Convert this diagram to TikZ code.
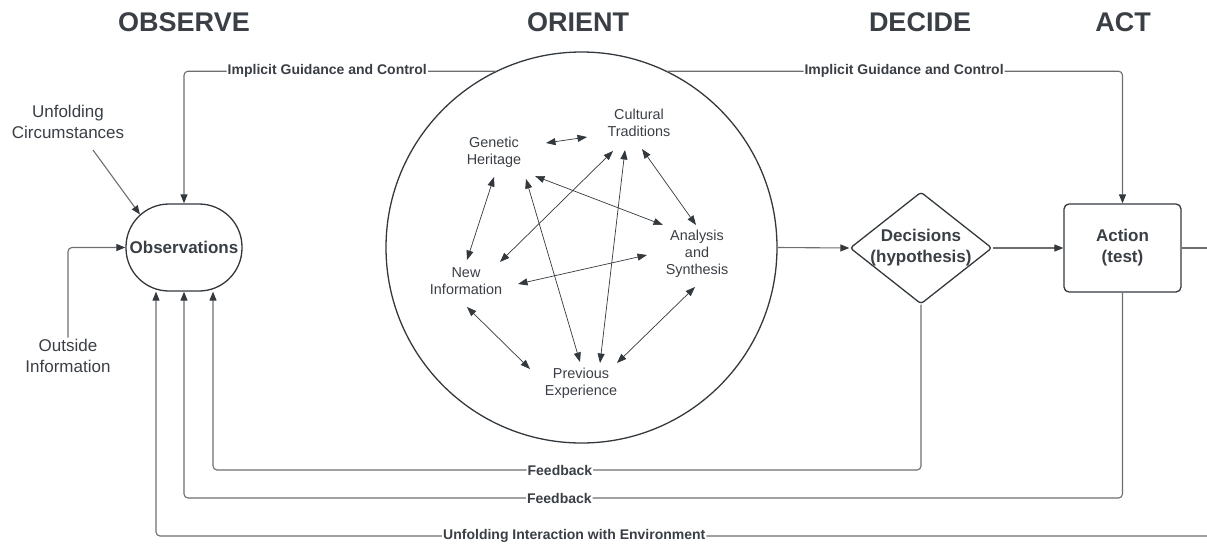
\documentclass[tikz,border=0pt]{standalone}
\usepackage{fontspec}
\setmainfont{Liberation Sans}
\usetikzlibrary{arrows.meta,shapes.geometric}
\definecolor{ink}{HTML}{33383D}
\definecolor{wire}{HTML}{6E6E6E}
\definecolor{txt}{HTML}{3A3F45}

\begin{document}
\begin{tikzpicture}[x=1pt,y=-1pt,
  tip/.style={-{Triangle[length=9pt,width=7pt,color=ink]}},
  conn/.style={draw=wire,line width=1.1pt,rounded corners=4pt},
  link/.style={draw=ink,line width=0.7pt,>={Triangle[length=9.5pt,width=7pt]},<->},
  title/.style={text=txt,font=\fontsize{27}{32}\selectfont\bfseries},
  side/.style={text=txt,align=center,font=\fontsize{17}{21}\selectfont,inner sep=1pt},
  inner/.style={text=txt,align=center,font=\fontsize{14.4}{17}\selectfont,inner sep=1pt},
  lbl/.style={fill=white,text=txt,font=\fontsize{14}{16}\selectfont\bfseries,inner sep=1pt},
  shapebox/.style={draw=ink,line width=1.3pt,text=txt,align=center,
    font=\fontsize{17}{21}\selectfont\bfseries,inner sep=0pt}
]
\useasboundingbox (0,0) rectangle (1207,547);

% phase titles
\node[title] (tobs) at (184,22) {OBSERVE};
\node[title] (tori) at (578,22) {ORIENT};
\node[title] (tdec) at (920,22) {DECIDE};
\node[title] (tact) at (1123,22) {ACT};

% main stages
\node[shapebox,rectangle,rounded corners=43pt,minimum width=116pt,minimum height=87pt]
  (obs) at (184,247.5) {Observations};
\node[draw=ink,line width=1.3pt,circle,minimum size=391pt,inner sep=0pt]
  (orient) at (581.5,247.5) {};
\node[shapebox,diamond,aspect=1.27,minimum width=142pt,minimum height=112pt,rounded corners=3pt,
  label={[text=txt,align=center,font=\fontsize{17}{21}\selectfont\bfseries]center:Decisions\\(hypothesis)}]
  (dec) at (921,248) {};
\node[shapebox,rectangle,rounded corners=5pt,minimum width=117pt,minimum height=88pt]
  (act) at (1122.5,248) {Action\\(test)};

% external inputs
\node[side] (unf) at (68,122) {Unfolding\\Circumstances};
\node[side] (out) at (68,355.5) {Outside\\Information};

% orientation factors
\node[inner] (gen) at (494,152) {Genetic\\Heritage};
\node[inner] (cul) at (639,123) {Cultural\\Traditions};
\node[inner] (ana) at (697,254) {Analysis\\and\\Synthesis};
\node[inner] (nwi) at (466,281) {New\\Information};
\node[inner] (pre) at (581,383) {Previous\\Experience};

\draw[link] ([shift={(52,-9)}]gen.center) -- ([shift={(-52,14)}]cul.center);
\draw[link] ([shift={(0,25)}]gen.center) -- ([shift={(1,-21)}]nwi.center);
\draw[link] ([shift={(32,27)}]gen.center) -- ([shift={(-1,-21)}]pre.center);
\draw[link] ([shift={(41,24)}]gen.center) -- ([shift={(-34,-29)}]ana.center);
\draw[link] ([shift={(-26,28)}]cul.center) -- ([shift={(34,-19)}]nwi.center);
\draw[link] ([shift={(-14,27)}]cul.center) -- ([shift={(19,-20)}]pre.center);
\draw[link] ([shift={(3,26)}]cul.center) -- ([shift={(-1,-29)}]ana.center);
\draw[link] ([shift={(52,3)}]nwi.center) -- ([shift={(-50,1)}]ana.center);
\draw[link] ([shift={(1,26)}]nwi.center) -- ([shift={(-51,-14)}]pre.center);
\draw[link] ([shift={(-2,33)}]ana.center) -- ([shift={(36,-20)}]pre.center);

% forward flow
\draw[conn,tip] (orient.east) -- (dec.west);
\draw[conn,tip] (dec.east) -- (act.west);
\coordinate (edgeR) at (1207,248);
\draw[conn] (act.east) -- (edgeR);

% inputs to observations
\draw[conn,tip] ([shift={(25,28)}]unf.center) -- ([shift={(-44,-33)}]obs.center);
\draw[conn,tip] (out.north) |- (obs.west);

% implicit guidance and control
\draw[conn,tip] (orient.116) -- node[lbl,pos=0.54]{Implicit Guidance and Control}
  (obs.north |- orient.116) -- (obs.north);
\draw[conn,tip] (orient.64) -- node[lbl,pos=0.52]{Implicit Guidance and Control}
  (act.north |- orient.64) -- (act.north);

% feedback loops
\coordinate (fbA) at ([xshift=29pt]obs.south);
\coordinate (fbB) at ([xshift=-28pt]obs.south);
\coordinate (lvA) at (0,470);
\coordinate (lvB) at (0,498);
\coordinate (lvC) at (1207,536);
\draw[conn,tip] (dec.south) -- (dec.south |- lvA) -- node[lbl,pos=0.51]{Feedback}
  (fbA |- lvA) -- (fbA);
\draw[conn,tip] (act.south) -- (act.south |- lvB) -- node[lbl,pos=0.6]{Feedback}
  (obs.south |- lvB) -- (obs.south);
\draw[conn,tip] (lvC) -- node[lbl,pos=0.602]{Unfolding Interaction with Environment}
  (fbB |- lvC) -- (fbB);
\end{tikzpicture}
\end{document}
